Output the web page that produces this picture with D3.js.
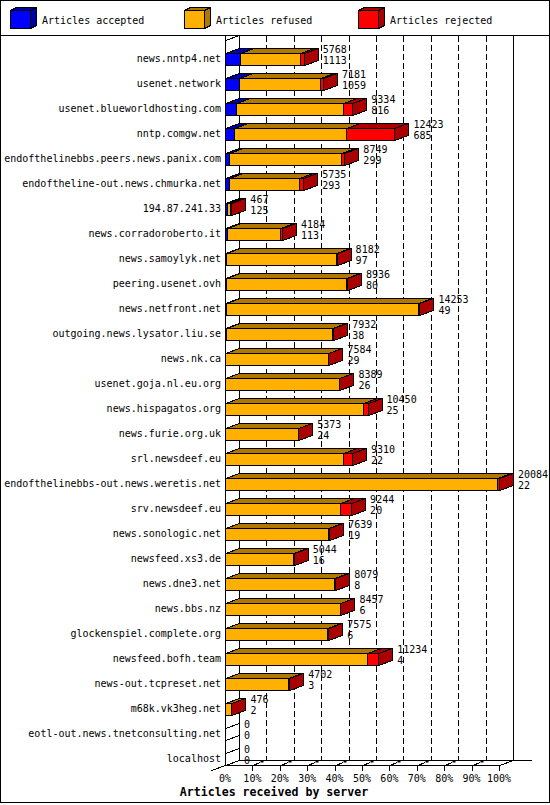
<!DOCTYPE html>
<html><head><meta charset="utf-8">
<script src="https://cdn.jsdelivr.net/npm/d3@7"></script>
<style>
body{margin:0;background:#fff}
svg{display:block}
text{font-family:"DejaVu Sans Mono","Liberation Mono",monospace;font-size:10px;fill:#000}
</style>
</head><body>
<svg id="c" width="550" height="805"></svg>
<script>
const categories = [
  "news.nntp4.net","usenet.network","usenet.blueworldhosting.com","nntp.comgw.net",
  "endofthelinebbs.peers.news.panix.com","endoftheline-out.news.chmurka.net","194.87.241.33",
  "news.corradoroberto.it","news.samoylyk.net","peering.usenet.ovh","news.netfront.net",
  "outgoing.news.lysator.liu.se","news.nk.ca","usenet.goja.nl.eu.org","news.hispagatos.org",
  "news.furie.org.uk","srl.newsdeef.eu","endofthelinebbs-out.news.weretis.net","srv.newsdeef.eu",
  "news.sonologic.net","newsfeed.xs3.de","news.dne3.net","news.bbs.nz","glockenspiel.complete.org",
  "newsfeed.bofh.team","news-out.tcpreset.net","m68k.vk3heg.net","eotl-out.news.tnetconsulting.net","localhost"
];
const offered  = [5768,7181,9334,12423,8749,5735,467,4184,8182,8936,14253,7932,7584,8389,10450,5373,9310,20084,9244,7639,5044,8079,8457,7575,11234,4702,476,0,0];
const accepted = [1113,1059,816,685,299,293,125,113,97,80,49,38,29,26,25,24,22,22,20,19,16,8,6,6,4,3,2,0,0];
const refused  = [4395,5922,7858,8190,8230,5152,250,3901,8005,8776,14124,7824,7495,8313,10075,5299,8608,19912,8394,7530,4968,7981,8391,7499,10430,4649,404,0,0];
const rejected = [260,200,660,3548,220,290,92,170,80,80,80,70,60,50,350,50,680,150,830,90,60,90,60,70,800,50,70,0,0];
const seriesNames = ["Articles accepted","Articles refused","Articles rejected"];
const pctTicks = [0,10,20,30,40,50,60,70,80,90,100];
const axisTitle = "Articles received by server";

(function(){
const frontCol = ["#0000ff","#ffb000","#ff0000"];
const darkCol  = ["#0000aa","#b07800","#aa0000"];
const series = [accepted, refused, rejected];

const svg = d3.select("#c");
const dx = 14, dy = 5;
const plotL = 225, plotR = 499, plotT = 40, plotB = 765;
const maxTotal = d3.max(offered);
const x = d3.scaleLinear().domain([0, maxTotal]).range([plotL, plotR]);
const xp = d3.scaleLinear().domain([0, 100]).range([plotL, plotR]);
const y = d3.scaleBand().domain(categories).range([plotT, plotB]).padding(0);
const bw = y.bandwidth();
const R = v => Math.round(v) + 0.5;

function line(x1,y1,x2,y2,dash){
  const l = svg.append("line").attr("x1",x1).attr("y1",y1).attr("x2",x2).attr("y2",y2)
    .attr("stroke","#000").attr("stroke-width",1).attr("shape-rendering","crispEdges");
  if (dash) l.attr("stroke-dasharray",dash);
  return l;
}
function poly(pts, fill){
  svg.append("polygon").attr("points", pts.map(p=>p.join(",")).join(" "))
    .attr("fill", fill).attr("stroke","#000").attr("stroke-width",1)
    .attr("stroke-linejoin","miter").attr("shape-rendering","crispEdges");
}

svg.append("rect").attr("x",0.5).attr("y",0.5).attr("width",549).attr("height",802)
  .attr("fill","#fff").attr("stroke","#000").attr("shape-rendering","crispEdges");

seriesNames.forEach((n,i)=>{
  const bx = 10 + i*174;
  const x0=bx+0.5, x1=bx+20.5, y0=10.5, y1=28.5, ldx=6, ldy=3;
  poly([[x0,y0],[x0+ldx,y0-ldy],[x1+ldx,y0-ldy],[x1,y0]], darkCol[i]);
  poly([[x1,y0],[x1+ldx,y0-ldy],[x1+ldx,y1-ldy],[x1,y1]], darkCol[i]);
  poly([[x0,y0],[x1,y0],[x1,y1],[x0,y1]], frontCol[i]);
  svg.append("text").attr("x", bx+32).attr("y", 23.5).text(n);
});
line(0,35.5,550,35.5);

pctTicks.forEach(p=>{
  const gx = R(xp(p)+dx);
  if (p===0 || p===100) line(gx,36,gx,plotB-dy+0.5);
  else line(gx,36,gx,plotB-dy+0.5,"6,3");
});
line(R(plotL),36,R(plotL),plotB+0.5);
const wallTicks = [];
categories.forEach(c=>{ wallTicks.push(y(c)); wallTicks.push(y(c)+bw/2); });
wallTicks.push(plotB);
wallTicks.forEach(t=>{
  const ty = Math.round(t)+0.5;
  line(R(plotL), ty, R(plotL+dx), ty-dy);
});
line(R(plotL), plotB+0.5, R(plotR), plotB+0.5);
line(R(plotL+dx), plotB-dy+0.5, 532, plotB-dy+0.5);
line(R(plotR), plotB+0.5, R(plotR+dx), plotB-dy+0.5);
line(R(plotL), plotB+0.5, R(plotL-dx), plotB+dy+0.5);
pctTicks.forEach(p=>{
  if (p===0) return;
  const fx = R(xp(p));
  line(fx, plotB+0.5, fx, plotB+5.5);
  if (p<100){
    line(fx, plotB+0.5, fx+8, plotB-2.5);
    svg.append("rect").attr("x",fx+8).attr("y",plotB-5).attr("width",3).attr("height",2.5).attr("fill","#000");
  }
});
pctTicks.forEach(p=>{
  svg.append("text").attr("x", xp(p)).attr("y", 781.5).attr("text-anchor","middle").text(p+"%");
});
svg.append("text").attr("x",274).attr("y",795.5).attr("text-anchor","middle")
  .style("font-weight","bold").style("font-size","11.6px").text(axisTitle);

categories.forEach((c,i)=>{
  const y0 = Math.round(y(c)+bw/2)+0.5, y1 = Math.round(y(c)+bw)+0.5;
  let cum = 0;
  series.forEach((arr,s)=>{
    const v = arr[i];
    if (v<=0) return;
    const x0 = R(x(cum)), x1 = R(x(cum+v));
    cum += v;
    poly([[x0,y0],[x1,y0],[x1,y1],[x0,y1]], frontCol[s]);
    poly([[x0,y0],[x0+dx,y0-dy],[x1+dx,y0-dy],[x1,y0]], darkCol[s]);
    poly([[x1,y0],[x1+dx,y0-dy],[x1+dx,y1-dy],[x1,y1]], darkCol[s]);
  });
  svg.append("text").attr("x",221).attr("y", y(c)+bw*0.75+3.5).attr("text-anchor","end").text(c);
  const lx = x(offered[i]) + dx + 5;
  svg.append("text").attr("x",lx).attr("y", y0-1).text(offered[i]);
  svg.append("text").attr("x",lx).attr("y", y1-1.5).text(accepted[i]);
});
})();
</script>
</body></html>
